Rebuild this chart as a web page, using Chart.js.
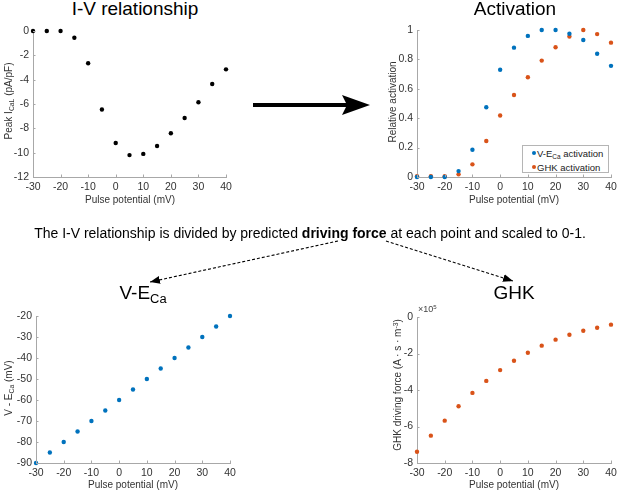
<!DOCTYPE html>
<html>
<head>
<meta charset="utf-8">
<script src="https://cdn.jsdelivr.net/npm/chart.js@4.4.1/dist/chart.umd.min.js"></script>
<style>
  html, body { margin: 0; padding: 0; background: #fff; }
  body { width: 617px; height: 491px; position: relative; overflow: hidden;
         font-family: 'Liberation Sans', Arial, sans-serif; color: #000; }
  .wrap { position: absolute; }
  .t { position: absolute; white-space: nowrap; line-height: 1; }
  .title { font-size: 19px; color: #000; transform: translateX(-50%); }
  .xt { font-size: 10px; color: #333; transform: translate(-50%, -50%); }
  .yt { font-size: 10px; color: #333; transform: translate(-50%, -50%) rotate(-90deg); }
  sub { font-size: 0.68em; vertical-align: -0.3em; line-height: 0; }
  sup { font-size: 0.68em; vertical-align: 0.45em; line-height: 0; }
  .legend { position: absolute; border: 1px solid #b5b5b5; background: #fff; font-size: 9.5px; color: #222; }
  .li { position: absolute; white-space: nowrap; line-height: 1; }
  .dot { position: absolute; width: 4.4px; height: 4.4px; border-radius: 50%; }
  svg { position: absolute; left: 0; top: 0; pointer-events: none; }
</style>
</head>
<body>

<div class="wrap" id="w1"><canvas id="c1"></canvas></div>
<div class="wrap" id="w2"><canvas id="c2"></canvas></div>
<div class="wrap" id="w3"><canvas id="c3"></canvas></div>
<div class="wrap" id="w4"><canvas id="c4"></canvas></div>

<div class="t title" style="left:135px; top:-1px;">I-V relationship</div>
<div class="t title" style="left:515px; top:-1px;">Activation</div>
<div class="t title" style="left:143px; top:283px;">V-E<sub>Ca</sub></div>
<div class="t title" style="left:514px; top:283px;">GHK</div>

<div class="t xt" style="left:130px; top:199.5px;">Pulse potential (mV)</div>
<div class="t xt" style="left:514px; top:199.5px;">Pulse potential (mV)</div>
<div class="t xt" style="left:133px; top:485px;">Pulse potential (mV)</div>
<div class="t xt" style="left:514px; top:485px;">Pulse potential (mV)</div>

<div class="t yt" style="left:9px; top:101px;">Peak I<sub>CaL</sub> (pA/pF)</div>
<div class="t yt" style="left:392.5px; top:102px;">Relative activation</div>
<div class="t yt" style="left:9px; top:388px;">V - E<sub>Ca</sub> (mV)</div>
<div class="t yt" style="left:398px; top:385px;">GHK driving force (A · s · m<sup>-3</sup>)</div>

<div class="t" style="left:418px; top:305px; font-size:9px; color:#444;">×10<sup>5</sup></div>

<div class="legend" style="left:522px; top:145px; width:85px; height:26px;">
  <div class="dot" style="left:8.8px; top:4.8px; background:#0072BD;"></div>
  <div class="li" style="left:14px; top:2.5px;">V-E<sub>Ca</sub> activation</div>
  <div class="dot" style="left:8.8px; top:18.8px; background:#D95319;"></div>
  <div class="li" style="left:14px; top:16.5px;">GHK activation</div>
</div>

<div class="t" style="left:0; width:620px; text-align:center; top:225.5px; font-size:14px;">The I-V relationship is divided by predicted <b>driving force</b> at each point and scaled to 0-1.</div>

<svg width="617" height="491" viewBox="0 0 617 491">
  <defs>
    <marker id="ah" markerUnits="userSpaceOnUse" markerWidth="11" markerHeight="9" refX="10" refY="4" orient="auto">
      <path d="M0,0 L10,4 L0,8 Z" fill="#000"/>
    </marker>
  </defs>
  <path d="M253,103 L346,103 L342,95 L370,105 L342,115 L346,107 L253,107 Z" fill="#000"/>
  <line x1="338" y1="241" x2="150" y2="282" stroke="#000" stroke-width="1.1" stroke-dasharray="3,2" marker-end="url(#ah)"/>
  <line x1="386" y1="241" x2="513" y2="281" stroke="#000" stroke-width="1.1" stroke-dasharray="3,2" marker-end="url(#ah)"/>
</svg>

<script>
// ---- data ----
const pulseV = [-30, -25, -20, -15, -10, -5, 0, 5, 10, 15, 20, 25, 30, 35, 40];
const peakICaL = [0, 0, 0, -0.55, -2.65, -6.45, -9.2, -10.2, -10.1, -9.45, -8.4, -7.15, -5.85, -4.35, -3.15];
const actVECa = [0, 0, 0, 0.04, 0.185, 0.475, 0.73, 0.88, 0.96, 1, 1, 0.975, 0.932, 0.838, 0.756];
const actGHK = [0.005, 0.005, 0.005, 0.018, 0.086, 0.245, 0.418, 0.558, 0.679, 0.792, 0.883, 0.956, 1, 0.972, 0.914];
const vMinusECa = [-90, -85, -80, -75, -70, -65, -60, -55, -50, -45, -40, -35, -30, -25, -20];
const ghkForce = [-7.38e5, -6.5e5, -5.68e5, -4.89e5, -4.16e5, -3.5e5, -2.91e5, -2.4e5, -1.96e5, -1.57e5, -1.24e5, -0.97e5, -0.75e5, -0.59e5, -0.42e5];

const xTicks = [-30, -20, -10, 0, 10, 20, 30, 40];

Chart.defaults.font.family = "'Liberation Sans', Arial, sans-serif";
Chart.defaults.font.size = 10;
Chart.defaults.animation = false;

// small inward tick marks (MATLAB style)
const inwardTicks = {
  id: 'inwardTicks',
  afterDraw(chart) {
    const ctx = chart.ctx, a = chart.chartArea;
    ctx.save();
    ctx.strokeStyle = '#a8a8a8';
    ctx.lineWidth = 1;
    const xs = chart.scales.x, ys = chart.scales.y;
    ctx.beginPath();
    xs.ticks.forEach(t => {
      const px = Math.round(xs.getPixelForValue(t.value)) + 0.5;
      ctx.moveTo(px, a.bottom); ctx.lineTo(px, a.bottom - 2.5);
    });
    ys.ticks.forEach(t => {
      const py = Math.round(ys.getPixelForValue(t.value)) + 0.5;
      ctx.moveTo(a.left, py); ctx.lineTo(a.left + 2.5, py);
    });
    ctx.stroke();
    ctx.restore();
  }
};

function pts(xs, ys) { return xs.map((x, i) => ({ x: x, y: ys[i] })); }

function ds(ys, color) {
  return {
    data: pts(pulseV, ys), backgroundColor: color, borderColor: color,
    pointRadius: 2.2, pointHoverRadius: 2.2, borderWidth: 0, showLine: false, clip: false
  };
}

const PADL = 40, PADT = 12, PADR = 16, PADB = 30;

function makeChart(id, rect, datasets, y) {
  const w = document.getElementById('w' + id);
  const W = rect.R - rect.L + PADL + PADR, H = rect.B - rect.T + PADT + PADB;
  w.style.left = (rect.L - PADL) + 'px';
  w.style.top = (rect.T - PADT) + 'px';
  w.style.width = W + 'px';
  w.style.height = H + 'px';
  new Chart(document.getElementById('c' + id), {
    type: 'scatter',
    data: { datasets: datasets },
    plugins: [inwardTicks],
    options: {
      responsive: true, maintainAspectRatio: false, animation: false,
      layout: { padding: { left: 0, top: PADT, right: PADR, bottom: 0 } },
      plugins: { legend: { display: false }, tooltip: { enabled: false }, title: { display: false } },
      events: [],
      scales: {
        x: {
          type: 'linear', min: -30, max: 40,
          afterFit: s => { s.height = PADB; },
          afterBuildTicks: s => { s.ticks = xTicks.map(v => ({ value: v })); },
          grid: { display: false, drawTicks: false },
          border: { display: true, color: '#a8a8a8', width: 1 },
          ticks: { color: '#333', padding: 4, autoSkip: false, maxRotation: 0, font: { size: 10.5 } }
        },
        y: {
          type: 'linear', min: y.min, max: y.max,
          afterFit: s => { s.width = PADL; },
          afterBuildTicks: s => { s.ticks = y.ticks.map(v => ({ value: v })); },
          grid: { display: false, drawTicks: false },
          border: { display: true, color: '#a8a8a8', width: 1 },
          ticks: { color: '#333', padding: 4, autoSkip: false, font: { size: 10.5 },
                   callback: y.cb || (v => String(v)) }
        }
      }
    }
  });
}

makeChart(1, { L: 33, T: 31, R: 226, B: 177 }, [ds(peakICaL, '#000000')],
  { min: -12, max: 0, ticks: [-12, -10, -8, -6, -4, -2, 0] });

makeChart(2, { L: 417, T: 30, R: 611, B: 177 }, [ds(actVECa, '#0072BD'), ds(actGHK, '#D95319')],
  { min: 0, max: 1, ticks: [0, 0.2, 0.4, 0.6, 0.8, 1] });

makeChart(3, { L: 36, T: 316, R: 230, B: 463 }, [ds(vMinusECa, '#0072BD')],
  { min: -90, max: -20, ticks: [-90, -80, -70, -60, -50, -40, -30, -20] });

makeChart(4, { L: 417, T: 317, R: 611, B: 463 }, [ds(ghkForce, '#D95319')],
  { min: -8e5, max: 0, ticks: [-8e5, -6e5, -4e5, -2e5, 0], cb: v => String(Math.round(v / 1e5)) });
</script>
</body>
</html>
